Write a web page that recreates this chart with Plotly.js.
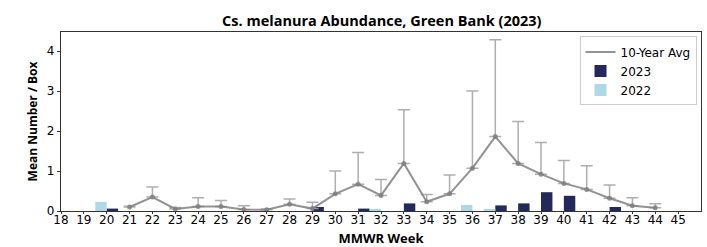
<!DOCTYPE html>
<html>
<head>
<meta charset="utf-8">
<script src="https://cdn.plot.ly/plotly-3.0.1.min.js"></script>
<style>html,body{margin:0;padding:0;background:#fff;}#chart{width:707px;height:247px;}</style>
</head>
<body>
<div id="chart"></div>
<script>
// 10-year average (weeks 21-44) with upper error
const avgWeeks = [21,22,23,24,25,26,27,28,29,30,31,32,33,34,35,36,37,38,39,40,41,42,43,44];
const avgValues = [0.10,0.35,0.05,0.11,0.11,0.04,0.03,0.17,0.06,0.43,0.67,0.39,1.19,0.23,0.43,1.07,1.86,1.19,0.92,0.69,0.54,0.32,0.13,0.08];
const avgUpper = [0.12,0.60,0.09,0.33,0.26,0.13,0.05,0.30,0.22,1.00,1.46,0.79,2.53,0.41,0.90,3.00,4.28,2.24,1.71,1.26,1.13,0.65,0.33,0.18];
// 2023
const weeks2023 = [20,29,31,33,37,38,39,40,42];
const values2023 = [0.06,0.10,0.06,0.19,0.14,0.19,0.47,0.38,0.10];
// 2022
const weeks2022 = [20,32,36,37];
const values2022 = [0.23,0.05,0.15,0.05];
const xTicks = [18,19,20,21,22,23,24,25,26,27,28,29,30,31,32,33,34,35,36,37,38,39,40,41,42,43,44,45];

const errPlus = avgUpper.map((u, i) => u - avgValues[i]);
const gray = 'rgba(128,128,128,0.85)';

const traces = [
  {
    type: 'bar', name: '2023', x: weeks2023, y: values2023,
    width: 0.5, offset: 0,
    marker: {color: '#232a5b'}, legendrank: 2
  },
  {
    type: 'bar', name: '2022', x: weeks2022, y: values2022,
    width: 0.5, offset: -0.5,
    marker: {color: '#add8e6'}, legendrank: 3
  },
  {
    type: 'scatter', mode: 'lines', name: '10-Year Avg',
    x: avgWeeks, y: avgValues,
    line: {color: gray, width: 2},
    error_y: {type: 'data', symmetric: false, array: errPlus, arrayminus: avgValues.map(() => 0),
              color: 'rgba(165,165,165,0.9)', thickness: 1.5, width: 6},
    legendrank: 1
  },
  {
    type: 'scatter', mode: 'markers', showlegend: false,
    x: avgWeeks, y: avgValues,
    marker: {color: gray, size: 5}
  }
];

const layout = {
  width: 707, height: 247,
  margin: {l: 61, r: 6, t: 32, b: 36},
  paper_bgcolor: '#fff', plot_bgcolor: '#fff',
  barmode: 'overlay',
  showlegend: true,
  title: {
    text: '<b>Cs. melanura Abundance, Green Bank (2023)</b>',
    font: {family: 'Open Sans', size: 14.5, color: '#000'},
    x: 0.54, xanchor: 'center', y: 0.915, yanchor: 'middle'
  },
  font: {family: 'DejaVu Sans', size: 12, color: '#000'},
  xaxis: {
    range: [18, 46], tickmode: 'array', tickvals: xTicks, ticktext: xTicks.map(String),
    showgrid: false, zeroline: false, showline: true, mirror: true,
    linecolor: '#333', linewidth: 1.3, ticks: 'outside', ticklen: 2, tickcolor: '#333',
    ticklabelstandoff: -5,
    tickfont: {family: 'DejaVu Sans', size: 12},
    title: {text: '<b>MMWR Week</b>', font: {family: 'Open Sans', size: 13}, standoff: 11}
  },
  yaxis: {
    range: [0, 4.475], tickvals: [0,1,2,3,4],
    showgrid: false, zeroline: false, showline: true, mirror: true,
    linecolor: '#333', linewidth: 1.3, ticks: 'outside', ticklen: 3, tickcolor: '#333',
    tickfont: {family: 'DejaVu Sans', size: 12},
    title: {text: '<b>Mean Number / Box</b>', font: {family: 'Open Sans', size: 12}, standoff: 6}
  },
  legend: {
    x: 0.993, xanchor: 'right', y: 0.975, yanchor: 'top',
    bgcolor: 'rgba(255,255,255,0.9)', bordercolor: '#ccc', borderwidth: 1,
    font: {family: 'DejaVu Sans', size: 12}, tracegroupgap: 0, itemwidth: 30
  }
};

Plotly.newPlot('chart', traces, layout, {displayModeBar: false, staticPlot: true});
</script>
</body>
</html>
